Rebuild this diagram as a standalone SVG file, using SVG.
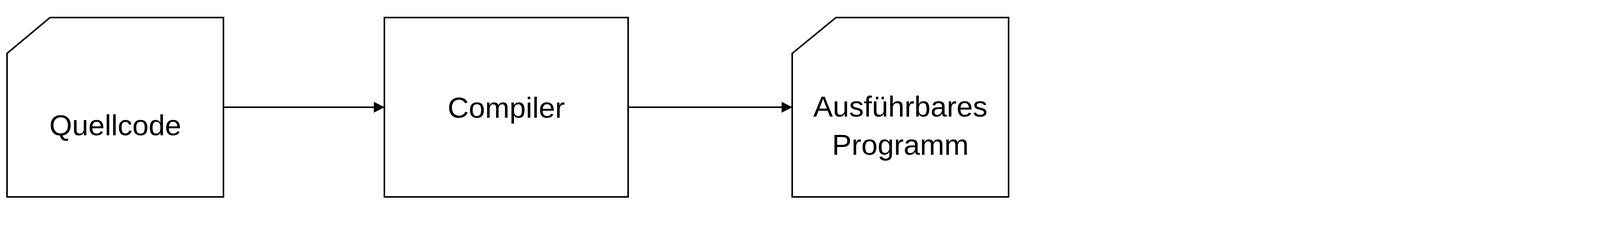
<svg xmlns="http://www.w3.org/2000/svg" width="4208" height="636" viewBox="0 0 4208 636">
<style>
.shape{fill:#ffffff;stroke:#000000;stroke-width:4;stroke-linejoin:miter}
.lbl{font-family:"Liberation Sans",Arial,sans-serif;font-size:75px;fill:#000000;text-anchor:middle}
.edge{stroke:#000000;stroke-width:4;fill:none}
</style>
<defs>
<marker id="arrow" markerUnits="userSpaceOnUse" markerWidth="28" markerHeight="28" refX="27" refY="14" orient="auto">
<path d="M0,0 L27,14 L0,28 Z" fill="#000000"/>
</marker>
</defs>
<rect width="4208" height="636" fill="#ffffff"/>
<g id="connectors">
<line class="edge" x1="572" y1="275" x2="984" y2="275" marker-end="url(#arrow)"/>
<line class="edge" x1="1608" y1="275" x2="2028" y2="275" marker-end="url(#arrow)"/>
</g>
<g id="quellcode">
<path class="shape" d="M128,45 L572,45 L572,505 L18,505 L18,137 Z"/>
<text class="lbl" x="295" y="347">Quellcode</text>
</g>
<g id="compiler">
<rect class="shape" x="984" y="45" width="624" height="460"/>
<text class="lbl" x="1296" y="302">Compiler</text>
</g>
<g id="programm">
<path class="shape" d="M2140,45 L2582,45 L2582,505 L2028,505 L2028,137 Z"/>
<text class="lbl" x="2305" y="299">Ausführbares</text>
<text class="lbl" x="2305" y="397">Programm</text>
</g>
</svg>
